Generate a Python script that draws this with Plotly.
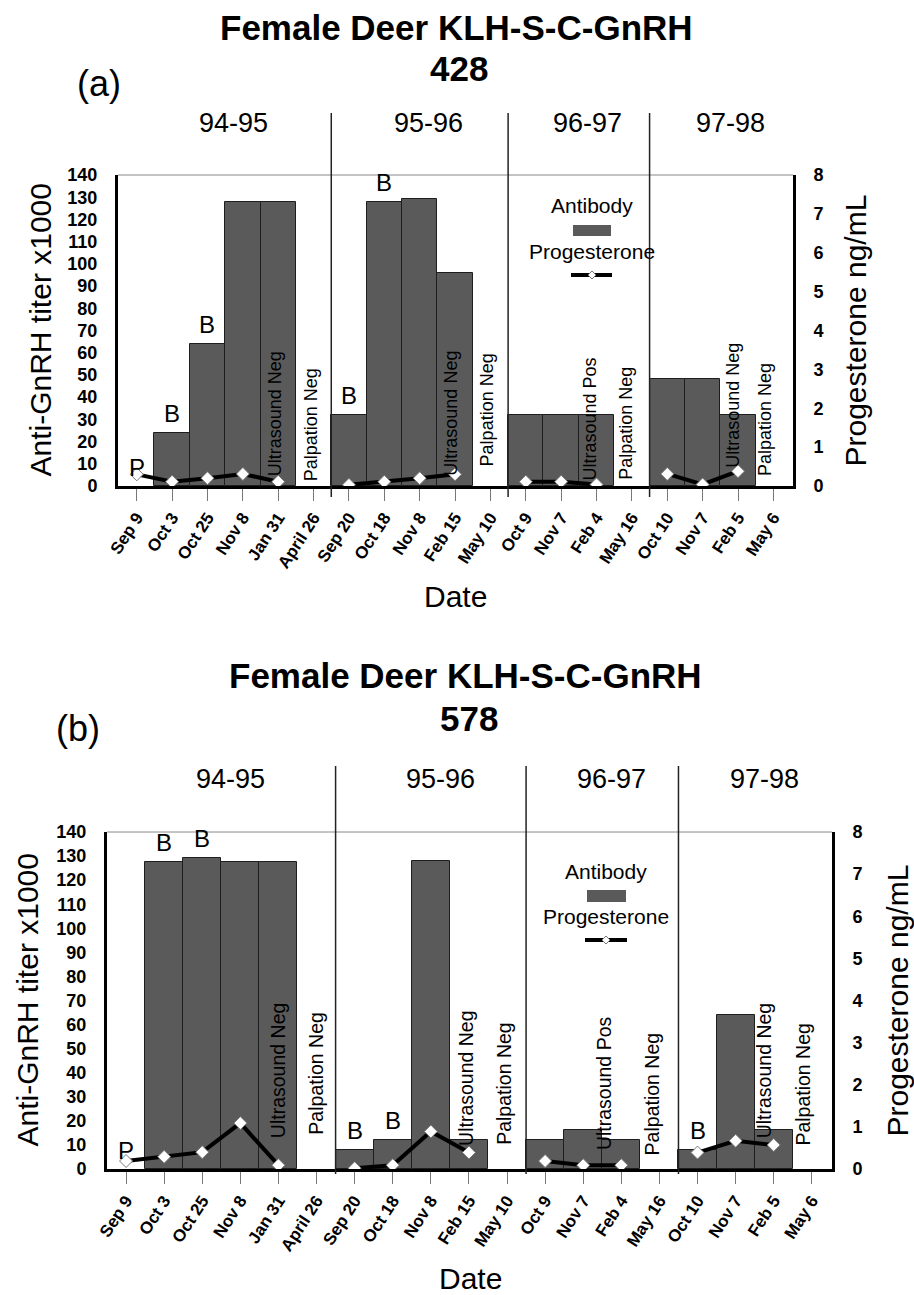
import plotly.graph_objects as go

# ---------------- data ----------------
dates = ["Sep 9", "Oct 3", "Oct 25", "Nov 8", "Jan 31", "April 26",
         "Sep 20", "Oct 18", "Nov 8", "Feb 15", "May 10",
         "Oct 9", "Nov 7", "Feb 4", "May 16",
         "Oct 10", "Nov 7", "Feb 5", "May 6"]
seasons = ["94-95", "95-96", "96-97", "97-98"]
season_sizes = [6, 5, 4, 4]

antibody_428 = [None, 24, 64, 128, 128, None, 32, 128, 129, 96, None,
                32, 32, 32, None, 48, 48, 32, None]
progesterone_428 = [0.3, 0.11, 0.2, 0.31, 0.11, None, 0.03, 0.11, 0.2, 0.3, None,
                    0.11, 0.11, 0.04, None, 0.31, 0.04, 0.38, None]

antibody_578 = [None, 127.5, 129, 127.5, 127.5, None, 8, 12, 128, 12, None,
                12, 16, 12, None, 8, 64, 16, None]
progesterone_578 = [0.19, 0.29, 0.4, 1.09, 0.09, None, 0.02, 0.09, 0.89, 0.39, None,
                    0.19, 0.09, 0.09, None, 0.39, 0.67, 0.57, None]

b_marks_428 = [1, 2, 6, 7]
b_marks_578 = [1, 2, 6, 7, 15]
p_marks = [0]

note_texts = ["Ultrasound Neg", "Palpation Neg", "Ultrasound Neg", "Palpation Neg",
              "Ultrasound Pos", "Palpation Neg", "Ultrasound Neg", "Palpation Neg"]
note_dates = [4, 5, 9, 10, 13, 14, 17, 18]

# ---------------- layout helpers ----------------
W, H = 914, 1295
FONT = "Liberation Sans, Arial, sans-serif"
BAR = "#5a5a5a"


def px(x):
    return x / W


def py(y):
    return 1 - y / H


xs = list(range(len(dates)))

panels = [
    dict(tag="(a)", num="428", ab=antibody_428, pg=progesterone_428, bm=b_marks_428,
         xa="x", ya="y", ya2="y2", x0=118, x1=793, ytop=175, ybot=486,
         xr=[-0.53, 18.555], sep=(113, 497),
         title_y=27, num_y=68, title_x=456, num_x=459, tag_xy=(99, 83), season_y=123,
         ytitle_x=40, rtitle_x=855, date_xy=(455, 596),
         note_dx=[-0.07, -0.05, -0.11, -0.1, -0.18, -0.16, -0.16, -0.22],
         note_y=[3.6, 1.4, 3.6, 8.1, 1.4, 1.8, 7.2, 3.6], note_size=18,
         leg=dict(cx=592, t1=205, rect=(573, 611, 225, 236), t2=251, line=(571, 612, 275))),
    dict(tag="(b)", num="578", ab=antibody_578, pg=progesterone_578, bm=b_marks_578,
         xa="x2", ya="y3", ya2="y4", x0=107, x1=832, ytop=832, ybot=1169,
         xr=[-0.5, 18.53], sep=(766, 1174),
         title_y=675, num_y=718, title_x=466, num_x=469, tag_xy=(78, 728), season_y=779,
         ytitle_x=27, rtitle_x=897, date_xy=(470, 1278),
         note_dx=[-0.01, -0.01, -0.08, -0.1, -0.45, -0.17, -0.25, -0.23],
         note_y=[12, 13.3, 8.7, 9.1, 7.1, 5, 12, 8.7], note_size=19.5,
         leg=dict(cx=606, t1=871, rect=(587, 626, 890, 902), t2=916, line=(585, 627, 940))),
]

fig = go.Figure()
annotations = []
shapes = []
layout_axes = {}


def paper_text(text, x, y, size, angle=0):
    return dict(text=text, xref="paper", yref="paper", x=px(x), y=py(y),
                xanchor="center", yanchor="middle", textangle=angle, showarrow=False,
                font=dict(family=FONT, size=size, color="black"))


# season boundaries from season sizes
bounds = []
acc = 0
for s in season_sizes:
    acc += s
    bounds.append(acc - 0.5)

for i, p in enumerate(panels):
    xa, ya, ya2 = p["xa"], p["ya"], p["ya2"]
    fig.add_trace(go.Bar(x=xs, y=p["ab"], xaxis=xa, yaxis=ya, width=1,
                         marker=dict(color=BAR, line=dict(color="#1e1e1e", width=1)),
                         showlegend=False, hoverinfo="x+y"))
    fig.add_trace(go.Scatter(x=xs, y=p["pg"], xaxis=xa, yaxis=ya2, mode="lines+markers",
                             connectgaps=False,
                             line=dict(color="black", width=4),
                             marker=dict(symbol="diamond", size=10, color="white",
                                         line=dict(color="#777777", width=1)),
                             showlegend=False))

    xkey = "xaxis" if xa == "x" else "xaxis" + xa[1:]
    ykey = "yaxis" if ya == "y" else "yaxis" + ya[1:]
    y2key = "yaxis" + ya2[1:]
    layout_axes[xkey] = dict(
        domain=[px(p["x0"]), px(p["x1"])], range=p["xr"], anchor=ya, automargin=False,
        tickmode="array", tickvals=xs, ticktext=dates, tickangle=-57,
        tickfont=dict(family=FONT, size=17, color="black", weight="bold"),
        ticks="outside", ticklen=12, tickcolor="#777777", tickwidth=1,
        showline=True, linewidth=3, linecolor="black", showgrid=False, zeroline=False)
    layout_axes[ykey] = dict(
        domain=[py(p["ybot"]), py(p["ytop"])], range=[0, 140], dtick=10, tick0=0,
        anchor=xa, automargin=False, showline=True, linewidth=3, linecolor="black", ticks="",
        tickfont=dict(family=FONT, size=18, color="black", weight="bold"),
        ticklabelstandoff=14, showgrid=False, zeroline=False)
    layout_axes[y2key] = dict(
        overlaying=ya, side="right", anchor=xa, automargin=False, range=[0, 8], dtick=1, tick0=0,
        showline=True, linewidth=3, linecolor="black", ticks="",
        tickfont=dict(family=FONT, size=18, color="black", weight="bold"),
        ticklabelstandoff=14, showgrid=False, zeroline=False)

    # top border of plot
    shapes.append(dict(type="line", xref=xa + " domain", yref=ya + " domain",
                       x0=0, x1=1, y0=1, y1=1, line=dict(color="#888888", width=1)))
    # season separators
    for b in bounds[:-1]:
        shapes.append(dict(type="line", xref=xa, yref="paper", x0=b, x1=b,
                           y0=py(p["sep"][1]), y1=py(p["sep"][0]),
                           line=dict(color="#222222", width=1.5)))
    # season labels
    starts = [p["xr"][0]] + bounds[:-1]
    ends = bounds[:-1] + [p["xr"][1]]
    for name, s0, s1 in zip(seasons, starts, ends):
        annotations.append(dict(text=name, xref=xa, yref="paper", x=(s0 + s1) / 2 + 0.25,
                                y=py(p["season_y"]), showarrow=False, xanchor="center",
                                yanchor="middle", font=dict(family=FONT, size=27, color="black")))
    # titles
    annotations.append(paper_text("<b>Female Deer KLH-S-C-GnRH</b>", p["title_x"], p["title_y"], 35))
    annotations.append(paper_text("<b>" + p["num"] + "</b>", p["num_x"], p["num_y"], 35))
    annotations.append(paper_text(p["tag"], p["tag_xy"][0], p["tag_xy"][1], 36))
    # axis titles
    ymid = (p["ytop"] + p["ybot"]) / 2
    annotations.append(paper_text("Anti-GnRH titer x1000", p["ytitle_x"], ymid, 30, -90))
    annotations.append(paper_text("Progesterone ng/mL", p["rtitle_x"], ymid, 30, -90))
    annotations.append(paper_text("Date", p["date_xy"][0], p["date_xy"][1], 30))
    # B / P marks
    for k in p["bm"]:
        annotations.append(dict(text="B", xref=xa, yref=ya, x=k, y=p["ab"][k],
                                xanchor="center", yanchor="bottom",
                                yshift=4, showarrow=False,
                                font=dict(family=FONT, size=24, color="black")))
    for k in p_marks:
        annotations.append(dict(text="P", xref=xa, yref=ya, x=k, y=0,
                                xanchor="center", yanchor="bottom",
                                yshift=3, showarrow=False,
                                font=dict(family=FONT, size=24, color="black")))
    # rotated notes
    for t, k, dx, yb in zip(note_texts, note_dates, p["note_dx"], p["note_y"]):
        annotations.append(dict(text=t, xref=xa, yref=ya, x=k + dx, y=yb, textangle=-90,
                                xanchor="center", yanchor="bottom", showarrow=False,
                                font=dict(family=FONT, size=p["note_size"], color="black")))
    # legend
    lg = p["leg"]
    annotations.append(paper_text("Antibody", lg["cx"], lg["t1"], 21))
    annotations.append(paper_text("Progesterone", lg["cx"], lg["t2"], 21))
    r = lg["rect"]
    shapes.append(dict(type="rect", xref="paper", yref="paper", x0=px(r[0]), x1=px(r[1]),
                       y0=py(r[3]), y1=py(r[2]), fillcolor=BAR, line=dict(width=0)))
    ln = lg["line"]
    shapes.append(dict(type="line", xref="paper", yref="paper", x0=px(ln[0]), x1=px(ln[1]),
                       y0=py(ln[2]), y1=py(ln[2]), line=dict(color="black", width=4)))
    shapes.append(dict(type="path", xref="paper", yref="paper", xsizemode="pixel",
                       ysizemode="pixel", xanchor=px(lg["cx"]), yanchor=py(ln[2]),
                       path="M -4 0 L 0 4 L 4 0 L 0 -4 Z", fillcolor="white",
                       line=dict(color="#777777", width=1)))

fig.update_layout(
    width=W, height=H, margin=dict(l=0, r=0, t=0, b=0, autoexpand=False),
    paper_bgcolor="white", plot_bgcolor="white", bargap=0,
    font=dict(family=FONT, color="black"),
    showlegend=False, annotations=annotations, shapes=shapes, **layout_axes)

fig.write_html("out.html", config={"displayModeBar": False},
               post_script="document.body.style.margin='0px';")
